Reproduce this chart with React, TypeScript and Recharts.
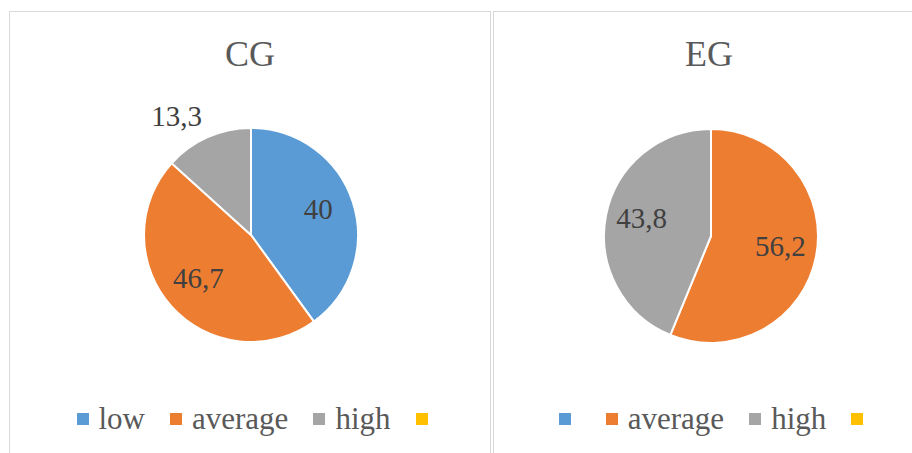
import React from 'react';
import { PieChart, Pie, Cell, Legend } from 'recharts';

const categories = ['low', 'average', 'high', ''];
const colors = ['#5B9BD5', '#ED7D31', '#A5A5A5', '#FFC000'];

const cgValues = [40, 46.7, 13.3, 0];
const egValues = [0, 56.2, 43.8, 0];

// EG legend in the source shows no text for "low"
const cgLegend = ['low', 'average', 'high', ''];
const egLegend = ['', 'average', 'high', ''];

const SERIF = 'Liberation Serif, Times New Roman, Times, DejaVu Serif, serif';
const RADIAN = Math.PI / 180;
const fmt = (v: number) => String(v).replace('.', ',');

const renderLabel = (props: any) => {
  const { cx, cy, midAngle, outerRadius, value, percent } = props;
  if (!value) return null;
  const cos = Math.cos(-midAngle * RADIAN);
  const sin = Math.sin(-midAngle * RADIAN);
  const style = { fontFamily: SERIF, fontSize: 29 };
  if (percent < 0.15) {
    // small slice: label sits just outside the pie
    const r = outerRadius + 14;
    return (
      <text x={cx + r * cos} y={cy + r * sin - 8} fill="#404040" style={style}
        textAnchor={cos < 0 ? 'end' : 'start'} dominantBaseline="central">
        {fmt(value)}
      </text>
    );
  }
  const r = outerRadius * 0.66;
  return (
    <text x={cx + r * cos} y={cy + r * sin - 4} fill="#404040" style={style}
      textAnchor="middle" dominantBaseline="central">
      {fmt(value)}
    </text>
  );
};

const makeLegend = (labels: string[]) => () => (
  <div style={{ display: 'flex', justifyContent: 'center', alignItems: 'center', height: 34, fontFamily: SERIF }}>
    {labels.map((l, i) => (
      <div key={i} style={{ display: 'flex', alignItems: 'center', marginRight: i < labels.length - 1 ? 25 : 0 }}>
        <span style={{ display: 'inline-block', width: 12, height: 12, background: colors[i], marginRight: 10 }} />
        <span style={{ fontSize: 31, lineHeight: '34px', color: '#595959', fontFamily: SERIF }}>{l}</span>
      </div>
    ))}
  </div>
);

interface PanelProps {
  title: string;
  values: number[];
  legend: string[];
  left: number;
  width: number;
  cx: number;
  cy: number;
}

function Panel({ title, values, legend, left, width, cx, cy }: PanelProps) {
  const data = categories.map((c, i) => ({ name: legend[i] || c, value: values[i] }));
  return (
    <div style={{ position: 'absolute', left, top: 11, width, height: 470, border: '1px solid #D9D9D9', boxSizing: 'border-box' }}>
      <div style={{ position: 'absolute', left: 0, top: 22, width: width - 2, textAlign: 'center', fontSize: 36, color: '#595959', lineHeight: '40px', fontFamily: SERIF }}>
        {title}
      </div>
      <PieChart width={width - 2} height={440} margin={{ top: 0, right: 0, bottom: 0, left: 0 }}>
        <Pie data={data} dataKey="value" nameKey="name" cx={cx} cy={cy} outerRadius={107}
          startAngle={90} endAngle={-270} stroke="#FFFFFF" strokeWidth={2}
          label={renderLabel} labelLine={false} isAnimationActive={false}>
          {data.map((_, i) => <Cell key={i} fill={colors[i]} />)}
        </Pie>
        <Legend content={makeLegend(legend)}
          wrapperStyle={{ position: 'absolute', top: 390, left: 7, width: width - 2 }} />
      </PieChart>
    </div>
  );
}

export default function App() {
  return (
    <div style={{ position: 'fixed', left: 0, top: 0, width: 912, height: 453, background: '#fff', overflow: 'hidden', fontFamily: SERIF }}>
      <Panel title="CG" values={cgValues} legend={cgLegend} left={9} width={482} cx={241} cy={223} />
      <Panel title="EG" values={egValues} legend={egLegend} left={493} width={432} cx={217} cy={224} />
    </div>
  );
}
